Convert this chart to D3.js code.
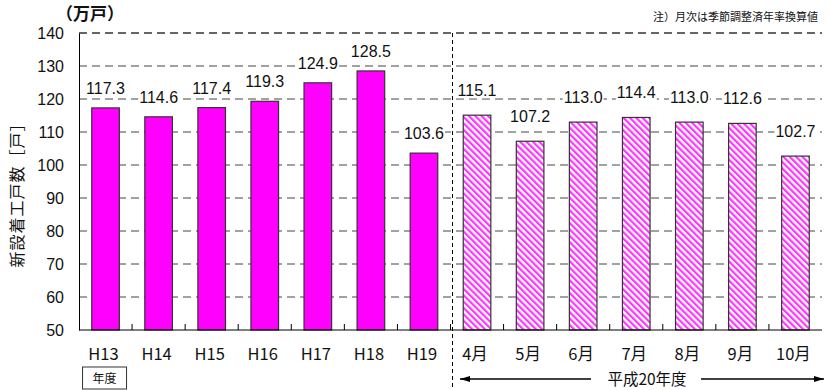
<!DOCTYPE html>
<html>
<head>
<meta charset="utf-8">
<script src="https://cdn.jsdelivr.net/npm/d3@7"></script>
<style>
  body { margin: 0; background: #fff; }
  svg { font-family: "Liberation Sans", Arial, "Noto Sans CJK JP", sans-serif; }
  .jp { font-family: "Noto Sans CJK JP", sans-serif; }
</style>
</head>
<body>
<div id="chart"></div>
<script>
// fiscal year totals (H13-H19) and monthly values for H20 (annualized)
let years = ['H13', 'H14', 'H15', 'H16', 'H17', 'H18', 'H19'];
let yearValues = [117.3, 114.6, 117.4, 119.3, 124.9, 128.5, 103.6];
let months = ['4月', '5月', '6月', '7月', '8月', '9月', '10月'];
let monthValues = [115.1, 107.2, 113.0, 114.4, 113.0, 112.6, 102.7];
let yTicks = [50, 60, 70, 80, 90, 100, 110, 120, 130, 140];

let data = years.map((c, i) => ({ cat: c, value: yearValues[i], monthly: false }))
    .concat(months.map((c, i) => ({ cat: c, value: monthValues[i], monthly: true })));

let W = 829, H = 390;
let margin = { top: 33, right: 7, bottom: 60, left: 79 },
    width = W - margin.left - margin.right,
    height = H - margin.top - margin.bottom;

let svg = d3.select("#chart").append("svg")
    .attr("width", W).attr("height", H);

// hatch pattern for monthly bars
let defs = svg.append("defs");
let pat = defs.append("pattern")
    .attr("id", "hatch")
    .attr("patternUnits", "userSpaceOnUse")
    .attr("width", 4.5).attr("height", 4.5)
    .attr("patternTransform", "rotate(-45)");
pat.append("rect").attr("width", 4.5).attr("height", 4.5).attr("fill", "#fff");
pat.append("rect").attr("x", 0).attr("width", 2.2).attr("height", 4.5).attr("fill", "#ff33ff");

let g = svg.append("g").attr("transform", "translate(" + margin.left + "," + margin.top + ")");

let x = d3.scaleBand()
    .domain(data.map(d => d.cat))
    .range([0, width]);

let y = d3.scaleLinear()
    .domain([50, 140])
    .range([height, 0]);

// gridlines
g.selectAll(".grid")
    .data(yTicks.filter(t => t > 50))
    .enter().append("line")
    .attr("x1", 0).attr("x2", width)
    .attr("y1", d => y(d)).attr("y2", d => y(d))
    .attr("stroke", d => d === 140 ? "#666" : "#444")
    .attr("stroke-width", d => d === 140 ? 2 : 1)
    .attr("stroke-dasharray", "8,5");

// y axis
let yAxis = g.append("g")
    .call(d3.axisLeft(y).tickValues(yTicks).tickSize(0).tickPadding(15));
yAxis.select(".domain").attr("stroke", "#000");
yAxis.selectAll("text").attr("font-size", 16).attr("fill", "#111")
    .attr("font-family", "Liberation Sans, Arial, sans-serif");

// bars
g.selectAll(".bar")
    .data(data)
    .enter().append("rect")
    .attr("x", d => x(d.cat) + x.bandwidth() * 0.24)
    .attr("width", x.bandwidth() * 0.52)
    .attr("y", d => y(d.value))
    .attr("height", d => height - y(d.value))
    .attr("fill", d => d.monthly ? "url(#hatch)" : "#ff00ff")
    .attr("stroke", "#333")
    .attr("stroke-width", 1.2);

// x axis with inside ticks at band boundaries
g.append("line")
    .attr("x1", 0).attr("x2", width)
    .attr("y1", height).attr("y2", height)
    .attr("stroke", "#000").attr("stroke-width", 1.2);
g.selectAll(".xtick")
    .data(data.slice(1))
    .enter().append("line")
    .attr("x1", d => x(d.cat)).attr("x2", d => x(d.cat))
    .attr("y1", height).attr("y2", height - 6)
    .attr("stroke", "#000");

g.selectAll(".xlab")
    .data(data)
    .enter().append("text")
    .attr("class", "jp")
    .attr("x", d => x(d.cat) + x.bandwidth() / 2 - 2)
    .attr("y", height + 30)
    .attr("text-anchor", "middle")
    .attr("font-size", 16.5)
    .attr("fill", "#111")
    .text(d => d.cat);

// value labels with white background
let labs = g.selectAll(".vlab")
    .data(data)
    .enter().append("g");
labs.append("text")
    .attr("x", d => x(d.cat) + x.bandwidth() / 2)
    .attr("y", d => y(d.value) - (d.monthly ? 19 : 14))
    .attr("text-anchor", "middle")
    .attr("font-size", 16)
    .attr("fill", "#111")
    .text(d => d.value.toFixed(1));
labs.each(function () {
    let t = d3.select(this).select("text");
    let b = t.node().getBBox();
    d3.select(this).insert("rect", "text")
        .attr("x", b.x - 1).attr("y", b.y + 2)
        .attr("width", b.width + 2).attr("height", b.height - 3)
        .attr("fill", "#fff");
});

// separator between fiscal years and months
let sepX = x(months[0]) + 2;
g.append("line")
    .attr("x1", sepX).attr("x2", sepX)
    .attr("y1", 0).attr("y2", H - margin.top)
    .attr("stroke", "#000")
    .attr("stroke-dasharray", "4,3");

// unit
svg.append("text").attr("class", "jp")
    .attr("x", 56).attr("y", 20)
    .attr("font-size", 17).attr("font-weight", "bold").attr("fill", "#111")
    .text("（万戸）");

// note
svg.append("text").attr("class", "jp")
    .attr("x", 818).attr("y", 21)
    .attr("text-anchor", "end")
    .attr("font-size", 11).attr("fill", "#111")
    .text("注）月次は季節調整済年率換算値");

// y title
svg.append("text").attr("class", "jp")
    .attr("transform", "translate(23,191) rotate(-90)")
    .attr("text-anchor", "middle")
    .attr("font-size", 16).attr("letter-spacing", 1).attr("fill", "#111")
    .text("新設着工戸数［戸］");

// 年度 box under H13
let bx = margin.left + x(years[0]) + x.bandwidth() / 2 - 23;
svg.append("rect")
    .attr("x", bx).attr("y", 367)
    .attr("width", 44).attr("height", 22)
    .attr("fill", "#fff").attr("stroke", "#333");
svg.append("text").attr("class", "jp")
    .attr("x", bx + 22).attr("y", 383)
    .attr("text-anchor", "middle")
    .attr("font-size", 12).attr("fill", "#111")
    .text("年度");

// arrow for 平成20年度
defs.append("marker")
    .attr("id", "arr").attr("viewBox", "0 0 10 10")
    .attr("refX", 10).attr("refY", 5)
    .attr("markerWidth", 8).attr("markerHeight", 8)
    .attr("orient", "auto-start-reverse")
    .append("path").attr("d", "M0,2 L10,5 L0,8 Z").attr("fill", "#000");
let ay = 379, ax1 = 460, ax2 = 824, cx = 645;
svg.append("line")
    .attr("x1", ax1).attr("x2", cx - 54).attr("y1", ay).attr("y2", ay)
    .attr("stroke", "#000").attr("stroke-width", 1.3)
    .attr("marker-start", "url(#arr)");
svg.append("line")
    .attr("x1", cx + 56).attr("x2", ax2).attr("y1", ay).attr("y2", ay)
    .attr("stroke", "#000").attr("stroke-width", 1.3)
    .attr("marker-end", "url(#arr)");
svg.append("text").attr("class", "jp")
    .attr("x", cx + 2).attr("y", 384.5)
    .attr("text-anchor", "middle")
    .attr("font-size", 15.5).attr("fill", "#111")
    .text("平成20年度");
</script>
</body>
</html>
